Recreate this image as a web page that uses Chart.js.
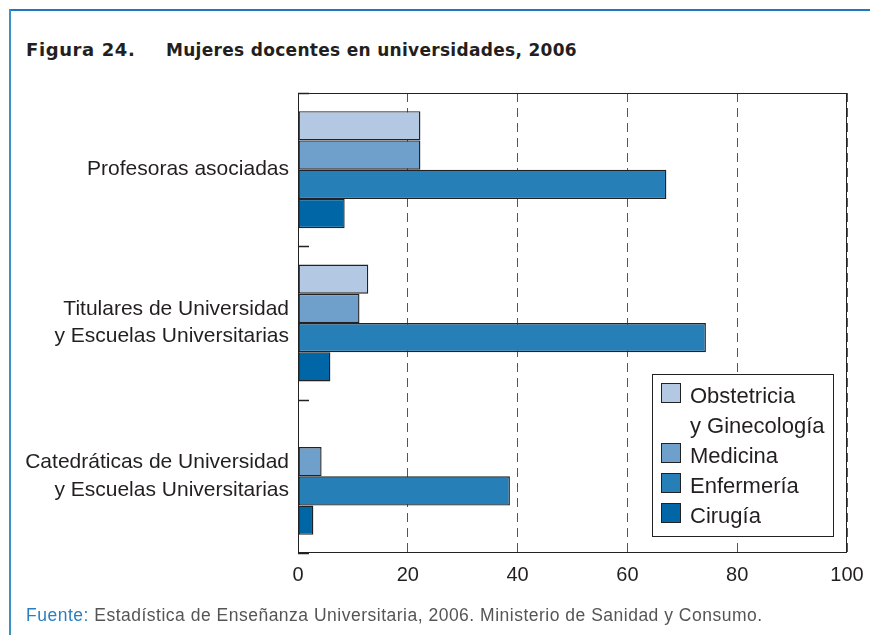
<!DOCTYPE html>
<html>
<head>
<meta charset="utf-8">
<script src="https://cdn.jsdelivr.net/npm/chart.js@4.4.0/dist/chart.umd.min.js"></script>
<style>
    body { margin: 0; background: #fff; }
    #wrap { position: relative; width: 870px; height: 635px; overflow: hidden; font-family: "Liberation Sans", Arial, sans-serif; }
    #frameTop { position: absolute; left: 9px; top: 9px; width: 861px; height: 2px; background: #1f78bf; }
    #frameLeft { position: absolute; left: 9px; top: 9px; width: 2px; height: 626px; background: #3d8fc8; }
    #title { position: absolute; left: 26px; top: 39px; font: bold 17px "DejaVu Sans", sans-serif; color: #231f20; white-space: nowrap; letter-spacing: 0.3px; }
    #title .fig { display: inline-block; width: 140px; font-size: 18px; font-weight: 900; letter-spacing: 0.6px; }
    #source { position: absolute; left: 26px; top: 605px; font-size: 17.5px; letter-spacing: 0.5px; color: #555; white-space: nowrap; }
    #source span { color: #2a7fc1; }
    canvas { position: absolute; left: 0; top: 0; }
</style>
</head>
<body>
<div id="wrap">
    <div id="frameTop"></div>
    <div id="frameLeft"></div>
    <div id="title"><span class="fig">Figura 24.</span>Mujeres docentes en universidades, 2006</div>
    <canvas id="chart" width="870" height="635"></canvas>
    <div id="source"><span>Fuente:</span> Estadística de Enseñanza Universitaria, 2006. Ministerio de Sanidad y Consumo.</div>
</div>
<script>
const categories = [
    'Profesoras asociadas',
    ['Titulares de Universidad', 'y Escuelas Universitarias'],
    ['Catedráticas de Universidad', 'y Escuelas Universitarias']
];
const seriesNames = ['Obstetricia\ny Ginecología', 'Medicina', 'Enfermería', 'Cirugía'];
const obstetricia = [22.3, 12.8, null];
const medicina = [22.3, 11.2, 4.3];
const enfermeria = [67.1, 74.3, 38.6];
const cirugia = [8.5, 5.9, 2.8];
const xTicks = [0, 20, 40, 60, 80, 100];

const seriesColors = ['#b3c8e3', '#6f9fcb', '#277fb8', '#0066a6'];
const fontFamily = '"Liberation Sans", Arial, sans-serif';

// marco del area de grafico + marcas entre categorias
const plotFrame = {
    id: 'plotFrame',
    afterDatasetsDraw(chart) {
        const ctx = chart.ctx, a = chart.chartArea;
        const n = categories.length;
        const step = a.height / n;
        ctx.save();
        ctx.strokeStyle = '#222';
        ctx.lineWidth = 1;
        ctx.strokeRect(a.left + 0.5, a.top + 0.5, a.width - 1, a.height - 1);
        ctx.lineWidth = 1.5;
        for (let i = 0; i <= n; i++) {
            const yy = Math.round(a.top + i * step) + 0.5;
            ctx.beginPath();
            ctx.moveTo(a.left, yy);
            ctx.lineTo(a.left + 11, yy);
            ctx.stroke();
        }
        ctx.restore();
    }
};

// leyenda dentro del area
const boxLegend = {
    id: 'boxLegend',
    afterDatasetsDraw(chart) {
        const ctx = chart.ctx, a = chart.chartArea;
        const x = Math.round(a.right - 195), y = a.top + 281, w = 181, h = 162;
        ctx.save();
        ctx.fillStyle = '#fff';
        ctx.fillRect(x, y, w, h);
        ctx.strokeStyle = '#222';
        ctx.lineWidth = 1;
        ctx.strokeRect(x + 0.5, y + 0.5, w, h);
        ctx.font = '22px ' + fontFamily;
        ctx.textBaseline = 'alphabetic';
        let base = y + 29;
        chart.data.datasets.forEach(ds => {
            ctx.fillStyle = ds.backgroundColor;
            ctx.fillRect(x + 9, base - 20, 19, 19);
            ctx.strokeRect(x + 9.5, base - 19.5, 19, 19);
            ctx.fillStyle = '#231f20';
            ds.label.split('\n').forEach(line => {
                ctx.fillText(line, x + 38, base);
                base += 30;
            });
        });
        ctx.restore();
    }
};

function makeSet(i, data) {
    return {
        label: seriesNames[i],
        data: data,
        backgroundColor: seriesColors[i],
        borderColor: '#222',
        borderWidth: 1.4,
        borderSkipped: false,
        categoryPercentage: 0.763,
        barPercentage: 1.0
    };
}

new Chart(document.getElementById('chart').getContext('2d'), {
    type: 'bar',
    data: {
        labels: categories,
        datasets: [
            makeSet(0, obstetricia),
            makeSet(1, medicina),
            makeSet(2, enfermeria),
            makeSet(3, cirugia)
        ]
    },
    options: {
        indexAxis: 'y',
        responsive: false,
        devicePixelRatio: 1,
        animation: false,
        layout: { padding: { left: 0, right: 23, top: 93, bottom: 42 } },
        plugins: {
            legend: { display: false },
            title: { display: false },
            tooltip: { enabled: false }
        },
        scales: {
            x: {
                type: 'linear',
                min: 0,
                max: 100,
                afterBuildTicks: s => { s.ticks = xTicks.map(v => ({ value: v })); },
                grid: { color: '#555', lineWidth: 1, drawTicks: false },
                border: { display: false, dash: [9, 6] },
                ticks: { color: '#231f20', font: { size: 20, family: fontFamily }, padding: 10 },
                afterFit: s => { s.height = 40; s.paddingLeft = 0; s.paddingRight = 0; }
            },
            y: {
                grid: { display: false, drawTicks: false },
                border: { display: false },
                ticks: { color: '#231f20', font: { size: 21, family: fontFamily, lineHeight: 1.3 }, padding: 9 },
                afterFit: s => { s.width = 298; }
            }
        }
    },
    plugins: [plotFrame, boxLegend]
});
</script>
</body>
</html>
